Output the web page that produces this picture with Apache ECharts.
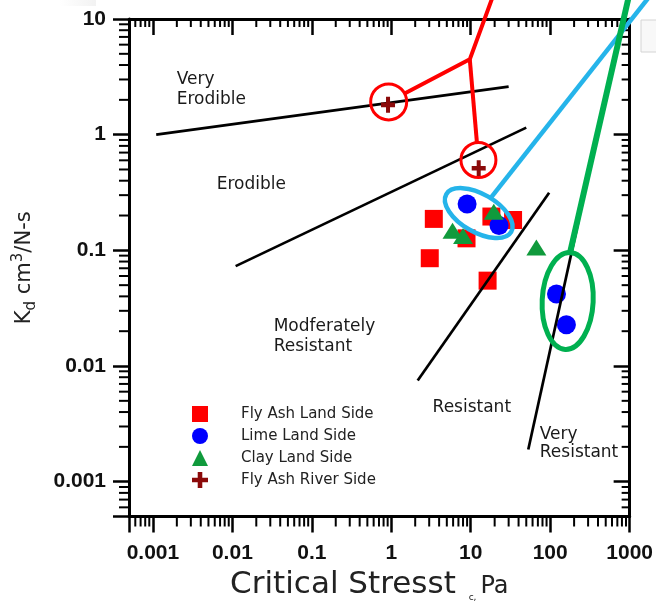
<!DOCTYPE html>
<html><head><meta charset="utf-8">
<script src="https://cdn.jsdelivr.net/npm/echarts@6/dist/echarts.min.js"></script>
<style>html,body{margin:0;padding:0;background:#fff}#c{width:656px;height:610px}</style>
</head><body><div id="c"></div>
<script>
// ---------------- data ----------------
const xTickLabels = ['0.001', '0.01', '0.1', '1', '10', '100', '1000'];
const yTickLabels = ['0.001', '0.01', '0.1', '1', '10'];
const seriesNames = ['Fly Ash Land Side', 'Lime Land Side', 'Clay Land Side', 'Fly Ash River Side'];
const flyAshLandSide = [[3.43, 0.187], [3.05, 0.0855], [8.85, 0.127], [18.2, 0.196], [34.1, 0.183], [16.3, 0.0547]];
const limeLandSide = [[9.0, 0.252], [22.7, 0.164], [120, 0.042], [160, 0.0227]];
const clayLandSide = [[19.5, 0.216], [5.9, 0.148], [8.0, 0.133], [67, 0.106]];
const flyAshRiverSide = [[0.91, 1.81], [12.6, 0.513]];
const boundaryLines = [
  [[0.0011, 1.0], [30, 2.6]],
  [[0.011, 0.073], [50, 1.15]],
  [[2.15, 0.0075], [97, 0.315]],
  [[53, 0.0019], [230, 0.187]]
];
const regionLabelText = ['Very\nErodible', 'Erodible', 'Modferately\nResistant', 'Resistant', 'Very\nResistant'];
const regionLabelPos = [[0.00199, 2.45], [0.00634, 0.371], [0.0331, 0.018], [3.31, 0.00434], [74, 0.00214]];
// annotation anchors (data space)
const redCircleCenters = [[0.927, 1.92], [12.5, 0.604]];
const redJunction = [9.73, 4.48];
const redLineEnd = [21.6, 20];
const blueEllipseCenter = [12.6, 0.21];
const blueLineEnd = [2355, 20];
const greenEllipseCenter = [166, 0.0365];
const greenLineEnd = [1059, 20];
// axis ranges and minor ticks
const xMin = 0.0005, xMax = 1000, yMin = 0.0005, yMax = 10;
const minorMultipliers = [2, 3, 4, 5, 6, 7, 8, 9];
const xDecades = [0.0001, 0.001, 0.01, 0.1, 1, 10, 100];
const yDecades = [0.0001, 0.001, 0.01, 0.1, 1];

// ---------------- build ----------------
function minorList(decades, lo, hi) {
  const out = [];
  decades.forEach(d => minorMultipliers.forEach(m => {
    const v = +(d * m).toPrecision(6);
    if (v > lo * 1.0001 && v < hi * 0.9999) out.push(v);
  }));
  return out;
}
const xMinor = minorList(xDecades, xMin, xMax);
const yMinor = minorList(yDecades, yMin, yMax);

function labelFrom(list) {
  return function (v) {
    const s = list.find(t => Math.abs(Math.log10(+t) - Math.log10(v)) < 1e-6);
    return s || '';
  };
}

const FONT = '"DejaVu Sans", sans-serif';
const TICKFONT = '"Liberation Sans", Arial, sans-serif';
const RED = '#FF0000', BLUE = '#25B4EA', GREEN = '#00B050';
const crossPath = 'path://M5,0H9V5H14V9H9V14H5V9H0V5H5Z';

const axisLineStyle = { show: true, onZero: false, lineStyle: { color: '#000', width: 3 } };
const MAJOR = 16, MINOR_OUT = 10, MINOR_IN = 8;

const chart = echarts.init(document.getElementById('c'), null, { renderer: 'canvas' });

const option = {
  animation: false,
  backgroundColor: '#fff',
  grid: { left: 129, right: 26, top: 19, bottom: 93.5, containLabel: false },
  legend: {
    data: seriesNames,
    orient: 'vertical',
    left: 187, top: 401,
    itemWidth: 16, itemHeight: 16, itemGap: 6,
    textStyle: { fontFamily: FONT, fontSize: 15, color: '#222', padding: [0, 0, 0, 28] },
    selectedMode: false
  },
  graphic: [
    { type: 'rect', shape: { x: 60, y: 0, width: 36, height: 6 },
      style: { fill: new echarts.graphic.LinearGradient(0, 0, 1, 0, [{ offset: 0, color: '#ffffff' }, { offset: 1, color: '#f2f2f2' }]) }, silent: true },
    { type: 'rect', shape: { x: 641, y: 20, width: 20, height: 32 }, style: { fill: '#f8f8f8', stroke: '#d4d4d4', lineWidth: 1 }, silent: true }
  ],
  xAxis: [
    {
      type: 'log', logBase: 10, min: xMin, max: xMax, position: 'bottom',
      axisLine: axisLineStyle,
      axisTick: { show: true, length: MAJOR, lineStyle: { color: '#000', width: 2.5 } },
      axisLabel: { margin: 26, fontSize: 21, fontWeight: 'bold', fontFamily: TICKFONT, color: '#111', formatter: labelFrom(xTickLabels) },
      splitLine: { show: false },
      name: '{a|Critical Stresst }{b|c,}{c|Pa}',
      nameLocation: 'middle', nameGap: 50,
      nameTextStyle: {
        padding: [0, 20, 0, 0],
        rich: {
          a: { fontFamily: FONT, fontSize: 31, color: '#222', lineHeight: 36, verticalAlign: 'middle' },
          b: { fontFamily: FONT, fontSize: 9, color: '#222', lineHeight: 36, verticalAlign: 'bottom', padding: [0, 4, 0, 3] },
          c: { fontFamily: FONT, fontSize: 24, color: '#222', lineHeight: 36, verticalAlign: 'middle', padding: [5, 0, 0, 0] }
        }
      }
    },
    {
      type: 'log', logBase: 10, min: xMin, max: xMax, position: 'top',
      axisLine: axisLineStyle,
      axisTick: { show: true, inside: true, length: MAJOR, lineStyle: { color: '#000', width: 2.5 } },
      axisLabel: { show: false }, splitLine: { show: false }
    }
  ],
  yAxis: [
    {
      type: 'log', logBase: 10, min: yMin, max: yMax, position: 'left',
      axisLine: axisLineStyle,
      axisTick: { show: true, length: MAJOR, lineStyle: { color: '#000', width: 2.5 } },
      axisLabel: { margin: 23, fontSize: 21, fontWeight: 'bold', fontFamily: TICKFONT, color: '#111', formatter: labelFrom(yTickLabels) },
      splitLine: { show: false },
      name: '{a|K}{s|d}{a| cm}{p|3}{a|/N-s}',
      nameLocation: 'middle', nameGap: 90,
      nameTextStyle: {
        rich: {
          a: { fontFamily: FONT, fontSize: 21, color: '#222', lineHeight: 28, verticalAlign: 'middle' },
          s: { fontFamily: FONT, fontSize: 15, color: '#222', lineHeight: 28, verticalAlign: 'bottom' },
          p: { fontFamily: FONT, fontSize: 15, color: '#222', lineHeight: 28, verticalAlign: 'top' }
        }
      }
    },
    {
      type: 'log', logBase: 10, min: yMin, max: yMax, position: 'right',
      axisLine: axisLineStyle,
      axisTick: { show: true, inside: true, length: MAJOR, lineStyle: { color: '#000', width: 2.5 } },
      axisLabel: { show: false }, splitLine: { show: false }
    }
  ],
  series: [
    // minor ticks, x
    {
      type: 'custom', xAxisIndex: 0, yAxisIndex: 0, silent: true, clip: false, z: 3,
      data: xMinor.map(v => [v, 1]),
      renderItem: function (params, api) {
        const cs = params.coordSys;
        const px = api.coord([api.value(0), 1])[0];
        const b = cs.y + cs.height, t = cs.y;
        return { type: 'group', children: [
          { type: 'line', shape: { x1: px, y1: b, x2: px, y2: b + MINOR_OUT }, style: { stroke: '#000', lineWidth: 2 } },
          { type: 'line', shape: { x1: px, y1: t, x2: px, y2: t + MINOR_IN }, style: { stroke: '#000', lineWidth: 2 } }
        ] };
      }
    },
    // minor ticks, y
    {
      type: 'custom', xAxisIndex: 0, yAxisIndex: 0, silent: true, clip: false, z: 3,
      data: yMinor.map(v => [1, v]),
      renderItem: function (params, api) {
        const cs = params.coordSys;
        const py = api.coord([1, api.value(1)])[1];
        const l = cs.x, r = cs.x + cs.width;
        return { type: 'group', children: [
          { type: 'line', shape: { x1: l, y1: py, x2: l - MINOR_OUT, y2: py }, style: { stroke: '#000', lineWidth: 2 } },
          { type: 'line', shape: { x1: r, y1: py, x2: r - MINOR_IN, y2: py }, style: { stroke: '#000', lineWidth: 2 } }
        ] };
      }
    },
    // boundary lines
    ...boundaryLines.map(seg => ({
      type: 'line', data: seg, symbol: 'none', silent: true, z: 4,
      lineStyle: { color: '#000', width: 2.7 }
    })),
    // scatter series
    { name: seriesNames[0], type: 'scatter', data: flyAshLandSide, symbol: 'rect', symbolSize: 18, itemStyle: { color: '#FF0000', opacity: 1 }, z: 2 },
    { name: seriesNames[1], type: 'scatter', data: limeLandSide, symbol: 'circle', symbolSize: 19, itemStyle: { color: '#0000FF', opacity: 1 }, z: 3 },
    { name: seriesNames[2], type: 'scatter', data: clayLandSide, symbol: 'triangle', symbolSize: [20, 16], itemStyle: { color: '#109A3C', opacity: 1 }, z: 3 },
    { name: seriesNames[3], type: 'scatter', data: flyAshRiverSide, symbol: crossPath, symbolSize: [14, 16], itemStyle: { color: '#8B0A0A', opacity: 1 }, z: 5 },
    // region labels
    {
      type: 'custom', silent: true, clip: false, z: 6,
      data: regionLabelPos,
      renderItem: function (params, api) {
        const p = api.coord([api.value(0), api.value(1)]);
        return { type: 'text', x: p[0], y: p[1], style: {
          text: regionLabelText[params.dataIndex], fill: '#1a1a1a', fontFamily: FONT, fontSize: 17,
          align: 'left', verticalAlign: 'middle', lineHeight: params.dataIndex === 4 ? 18 : 20
        } };
      }
    },
    // annotations (circles, ellipses, connectors)
    {
      type: 'custom', silent: true, clip: false, z: 10,
      data: [[1, 1]],
      renderItem: function (params, api) {
        const ch = [];
        const edge = (c, t, r) => { const dx = t[0] - c[0], dy = t[1] - c[1], L = Math.hypot(dx, dy); return [c[0] + dx / L * r, c[1] + dy / L * r]; };
        // red
        const c1 = api.coord(redCircleCenters[0]), c2 = api.coord(redCircleCenters[1]);
        const j = api.coord(redJunction), rt = api.coord(redLineEnd);
        const R = 18;
        const e1 = edge(c1, j, R), e2 = edge(c2, j, R);
        ch.push({ type: 'polyline', shape: { points: [e1, j, rt] }, style: { stroke: RED, lineWidth: 4, fill: 'none', lineJoin: 'round' } });
        ch.push({ type: 'line', shape: { x1: j[0], y1: j[1], x2: e2[0], y2: e2[1] }, style: { stroke: RED, lineWidth: 4 } });
        ch.push({ type: 'circle', shape: { cx: c1[0], cy: c1[1], r: R }, style: { stroke: RED, lineWidth: 3, fill: 'none' } });
        ch.push({ type: 'circle', shape: { cx: c2[0], cy: c2[1], r: R - 0.5 }, style: { stroke: RED, lineWidth: 3, fill: 'none' } });
        // blue
        const bc = api.coord(blueEllipseCenter), be = api.coord(blueLineEnd);
        const ba = 37.5, bb = 19, th = Math.PI / 6;
        let dx = be[0] - bc[0], dy = be[1] - bc[1]; const L = Math.hypot(dx, dy); dx /= L; dy /= L;
        const du = dx * Math.cos(th) + dy * Math.sin(th), dv = -dx * Math.sin(th) + dy * Math.cos(th);
        const tt = 1 / Math.sqrt((du / ba) * (du / ba) + (dv / bb) * (dv / bb));
        const bs = [bc[0] + dx * tt, bc[1] + dy * tt];
        ch.push({ type: 'ellipse', x: bc[0], y: bc[1], rotation: -th, shape: { cx: 0, cy: 0, rx: ba, ry: bb }, style: { stroke: BLUE, lineWidth: 4.5, fill: 'none' } });
        ch.push({ type: 'line', shape: { x1: bs[0], y1: bs[1], x2: be[0], y2: be[1] }, style: { stroke: BLUE, lineWidth: 4.5 } });
        // green
        const gc = api.coord(greenEllipseCenter), ge = api.coord(greenLineEnd);
        const ga = 25.5, gb = 48.5, gr = -0.05;
        const gtop = [gc[0] - gb * Math.sin(gr), gc[1] - gb * Math.cos(gr)];
        ch.push({ type: 'ellipse', x: gc[0], y: gc[1], rotation: gr, shape: { cx: 0, cy: 0, rx: ga, ry: gb }, style: { stroke: GREEN, lineWidth: 5, fill: 'none' } });
        ch.push({ type: 'line', shape: { x1: gtop[0], y1: gtop[1], x2: ge[0], y2: ge[1] }, style: { stroke: GREEN, lineWidth: 6 } });
        return { type: 'group', children: ch };
      }
    }
  ]
};
chart.setOption(option);
</script>
</body></html>
